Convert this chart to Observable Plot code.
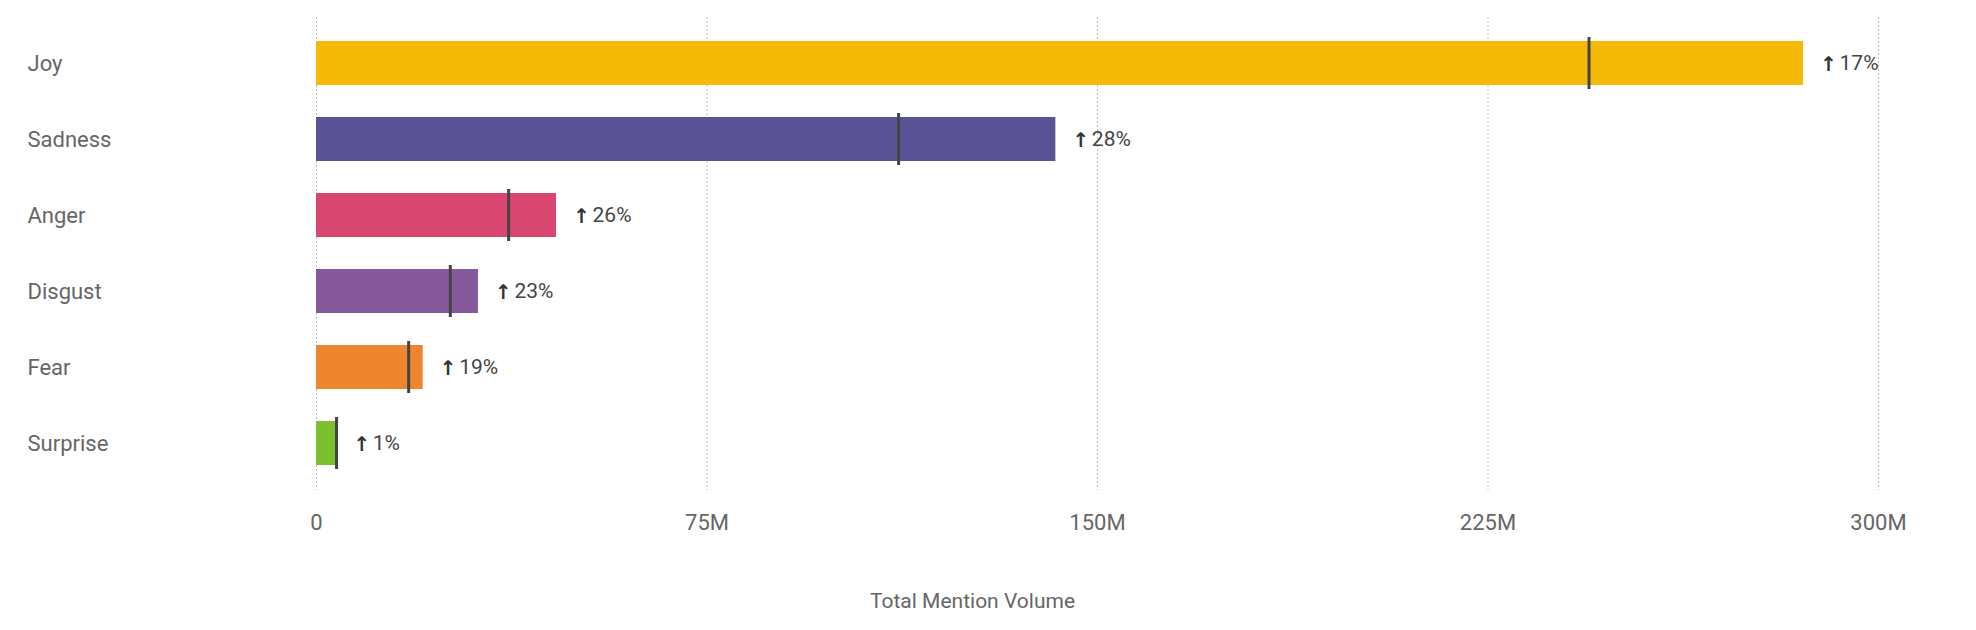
<!DOCTYPE html>
<html>
<head>
<meta charset="utf-8">
<script src="https://cdn.jsdelivr.net/npm/d3@7"></script>
<script src="https://cdn.jsdelivr.net/npm/@observablehq/plot@0.6"></script>
<style>
  html, body { margin: 0; padding: 0; background: #fff; }
  #chart svg { display: block; }
</style>
</head>
<body>
<div id="chart"></div>
<script>
const categories = ["Joy", "Sadness", "Anger", "Disgust", "Fear", "Surprise"];
const currentVolume = [285.6e6, 142.0e6, 46.1e6, 31.1e6, 20.5e6, 3.9e6];
const previousVolume = [244.4e6, 111.8e6, 36.9e6, 25.7e6, 17.7e6, 3.85e6];
const changePct = [17, 28, 26, 23, 19, 1];
const colors = ["#F5B908", "#5A5496", "#D94670", "#86599D", "#EF852F", "#7AC02F"];
const xTicks = [0, 75e6, 150e6, 225e6, 300e6];
const xTickLabels = ["0", "75M", "150M", "225M", "300M"];

const data = categories.map((c, i) => ({
  cat: c, cur: currentVolume[i], prev: previousVolume[i], pct: changePct[i], color: colors[i]
}));

const chart = Plot.plot({
  width: 1976,
  height: 630,
  marginTop: 17,
  marginBottom: 140,
  marginLeft: 316,
  marginRight: 98,
  style: { fontFamily: "Roboto, sans-serif", fontSize: "22px", color: "#666", background: "#fff" },
  x: { domain: [0, 300e6] },
  y: { domain: categories, paddingInner: 0.42, paddingOuter: 0.31 },
  marks: [
    Plot.gridX(xTicks, { stroke: "#bbb", strokeOpacity: 1, strokeDasharray: "2,2" }),
    Plot.axisX(xTicks, {
      tickSize: 0, tickPadding: 24, label: null, fill: "#666",
      tickFormat: (d) => xTickLabels[xTicks.indexOf(d)]
    }),
    Plot.axisY({ tickSize: 0, textAnchor: "start", dx: -280, label: null, fill: "#666", fontSize: 22 }),
    Plot.barX(data, { y: "cat", x: "cur", fill: "color" }),
    Plot.tickX(data, { y: "cat", x: "prev", stroke: "#444", strokeWidth: 3, insetTop: -4, insetBottom: -4 }),
    Plot.text(data, {
      y: "cat", x: "cur", text: () => "\u2191",
      textAnchor: "middle", dx: 25, dy: 1, fill: "#333", fontSize: 20, fontWeight: "bold",
      fontFamily: "DejaVu Sans, sans-serif"
    }),
    Plot.text(data, {
      y: "cat", x: "cur", text: (d) => d.pct + "%",
      textAnchor: "start", dx: 36, fill: "#444", fontSize: 21
    }),
    Plot.text(["Total Mention Volume"], { frameAnchor: "bottom", dx: -125, dy: 117, fill: "#666", fontSize: 21 })
  ]
});
document.getElementById("chart").appendChild(chart);
</script>
</body>
</html>
